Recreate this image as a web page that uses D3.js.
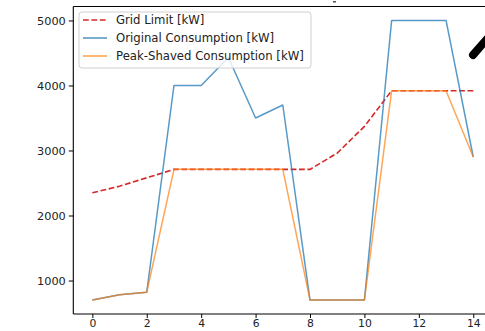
<!DOCTYPE html>
<html>
<head>
<meta charset="utf-8">
<script src="https://cdn.jsdelivr.net/npm/d3@7"></script>
<style>
  html, body { margin: 0; padding: 0; background: #fff; }
  svg { display: block; }
  text { font-family: "DejaVu Sans", sans-serif; }
</style>
</head>
<body>
<svg id="chart" width="485" height="331"></svg>
<script>
// Hourly time steps
const hours = [0, 1, 2, 3, 4, 5, 6, 7, 8, 9, 10, 11, 12, 13, 14];

// Series values in kW
const gridLimit = [2350, 2450, 2580, 2710, 2710, 2710, 2710, 2710, 2710, 2960, 3370, 3920, 3920, 3920, 3920];
const originalConsumption = [700, 780, 820, 4000, 4000, 4430, 3500, 3700, 700, 700, 700, 5000, 5000, 5000, 2900];
const peakShavedConsumption = [700, 780, 820, 2710, 2710, 2710, 2710, 2710, 700, 700, 700, 3920, 3920, 3920, 2900];

// Axis ticks
const xTicks = [0, 2, 4, 6, 8, 10, 12, 14];
const yTicks = [1000, 2000, 3000, 4000, 5000];

const seriesNames = ["Grid Limit [kW]", "Original Consumption [kW]", "Peak-Shaved Consumption [kW]"];

const svg = d3.select("#chart");

const plot = { left: 73.3, right: 492.3, top: 6.5, bottom: 314 };

// matplotlib-style 5% margins around the data range
const xMin = d3.min(hours), xMax = d3.max(hours);
const xPad = (xMax - xMin) * 0.05;
const allY = gridLimit.concat(originalConsumption, peakShavedConsumption);
const yMin = d3.min(allY), yMax = d3.max(allY);
const yPad = (yMax - yMin) * 0.05;

const x = d3.scaleLinear().domain([xMin - xPad, xMax + xPad]).range([plot.left, plot.right]);
const y = d3.scaleLinear().domain([yMin - yPad, yMax + yPad]).range([plot.bottom, plot.top]);

// Series lines
const line = (vals) => d3.line().x((d, i) => x(hours[i])).y(d => y(d))(vals);

const g = svg.append("g");

g.append("path")
  .attr("d", line(gridLimit))
  .attr("fill", "none")
  .attr("stroke", "#d62728")
  .attr("stroke-width", 1.6)
  .attr("stroke-dasharray", "5.8,2.6");

g.append("path")
  .attr("d", line(originalConsumption))
  .attr("fill", "none")
  .attr("stroke", "#1f77b4")
  .attr("stroke-opacity", 0.75)
  .attr("stroke-width", 1.5)
  .attr("stroke-linejoin", "round");

g.append("path")
  .attr("d", line(peakShavedConsumption))
  .attr("fill", "none")
  .attr("stroke", "#ff7f0e")
  .attr("stroke-opacity", 0.7)
  .attr("stroke-width", 1.5)
  .attr("stroke-linejoin", "round");

// Axes
const xAxis = d3.axisBottom(x).tickValues(xTicks).tickFormat(d3.format("d")).tickSize(4).tickPadding(1.8);
const yAxis = d3.axisLeft(y).tickValues(yTicks).tickFormat(d3.format("d")).tickSize(4.5).tickPadding(3);

const gx = svg.append("g").attr("transform", `translate(0,${plot.bottom})`).call(xAxis);
const gy = svg.append("g").attr("transform", `translate(${plot.left},0)`).call(yAxis);

[gx, gy].forEach(ax => {
  ax.select(".domain").remove();
  ax.selectAll(".tick line").attr("stroke", "#000").attr("stroke-width", 1);
  ax.selectAll(".tick text").attr("fill", "#222");
});
gy.selectAll(".tick text").attr("font-size", 11.3);
gx.selectAll(".tick text").attr("font-size", 10.8);

// Spines (right one falls outside the canvas)
svg.append("line").attr("x1", plot.left).attr("x2", plot.left).attr("y1", plot.top).attr("y2", plot.bottom)
  .attr("stroke", "#000").attr("stroke-width", 1.1);
svg.append("line").attr("x1", plot.left).attr("x2", plot.right).attr("y1", plot.bottom).attr("y2", plot.bottom)
  .attr("stroke", "#000").attr("stroke-width", 1.1);
svg.append("line").attr("x1", plot.left).attr("x2", plot.right).attr("y1", plot.top).attr("y2", plot.top)
  .attr("stroke", "#000").attr("stroke-width", 1.1);

// Legend
const legend = svg.append("g").attr("transform", "translate(79,12)");
legend.append("rect")
  .attr("width", 232).attr("height", 56)
  .attr("rx", 3).attr("ry", 3)
  .attr("fill", "#fff").attr("fill-opacity", 0.8)
  .attr("stroke", "#d0d0d0").attr("stroke-width", 1);

const legendStyles = [
  { color: "#d62728", opacity: 1, dash: "5.8,2.6" },
  { color: "#1f77b4", opacity: 0.75, dash: null },
  { color: "#ff7f0e", opacity: 0.7, dash: null }
];

seriesNames.forEach((name, i) => {
  const row = legend.append("g").attr("transform", `translate(0,${8 + i * 18})`);
  row.append("line")
    .attr("x1", 4).attr("x2", 28).attr("y1", 0).attr("y2", 0)
    .attr("stroke", legendStyles[i].color)
    .attr("stroke-opacity", legendStyles[i].opacity)
    .attr("stroke-width", 1.6)
    .attr("stroke-dasharray", legendStyles[i].dash);
  row.append("text")
    .attr("x", 37).attr("y", 0).attr("dy", "0.35em")
    .attr("font-size", 11.7).attr("fill", "#222")
    .text(name);
});

// Neighbouring annotation stroke at the top-right edge
svg.append("line")
  .attr("x1", 473).attr("y1", 55).attr("x2", 494).attr("y2", 31)
  .attr("stroke", "#000").attr("stroke-width", 8).attr("stroke-linecap", "round");

// Clipped title fragment above the axes
svg.append("rect").attr("x", 333).attr("y", 1).attr("width", 3).attr("height", 1.5).attr("fill", "#555");
</script>
</body>
</html>
